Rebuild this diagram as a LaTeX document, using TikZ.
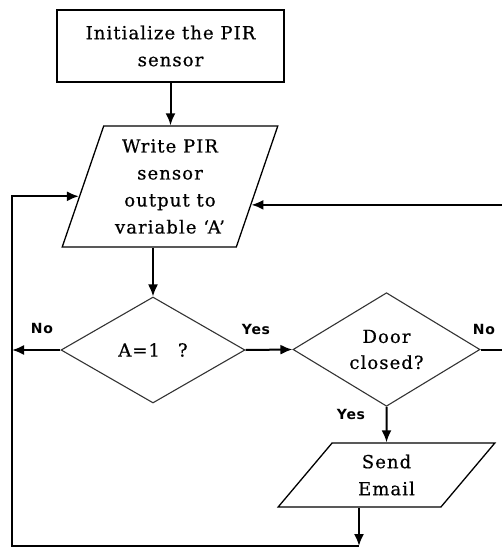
\documentclass[tikz,border=0pt]{standalone}
\usepackage{fontspec}
\setmainfont{DejaVu Serif}
\newfontfamily\boxfont[LetterSpace=6,FakeBold=0.6]{DejaVu Serif}
\newfontfamily\lblfont[LetterSpace=5]{DejaVu Sans}
\usetikzlibrary{shapes.geometric,arrows.meta,calc}

\begin{document}
\begin{tikzpicture}[x=1pt,y=-1pt,>={Latex[length=12pt,width=10pt]},
        procbox/.style={draw,line width=1.6pt,minimum width=227pt,minimum height=72pt,inner sep=0pt,align=center,font=\boxfont\fontsize{18}{27}\selectfont},
        iobox/.style={draw,line width=1.3pt,trapezium,trapezium stretches=true,inner sep=0pt,align=center,font=\boxfont\fontsize{18}{27}\selectfont},
        decision/.style={draw=black!80,line width=1.1pt,diamond,inner sep=0pt,align=center,font=\boxfont\fontsize{18}{26}\selectfont},
        flow/.style={->,line width=2pt},
        lbl/.style={font=\lblfont\bfseries\fontsize{14}{16}\selectfont}]
    \useasboundingbox (0,0) rectangle (502,548);
    % boxes
    \node[procbox] (init) at (170.5,46) {Initialize the PIR\\sensor};
    \node[iobox,trapezium left angle=70,trapezium right angle=110,minimum width=216pt,minimum height=121pt] (write) at (170,186.5) {Write PIR\\sensor\\output to\\variable ‘A’};
    \node[decision,minimum width=184pt,minimum height=106pt] (check) at (153,350) {A=1\quad?};
    \node[decision,minimum width=187pt,minimum height=105pt] (door) at (386.5,349.5) {Door\\closed?};
    \node[iobox,trapezium left angle=55.5,trapezium right angle=124.5,minimum width=217pt,minimum height=64pt] (email) at (386.5,475) {Send\\Email};
    %
    % loop corners
    \coordinate (bl) at (12,546);
    \coordinate (rr) at (506,0);
    \coordinate (wl) at ($(write.top left corner)!0.58!(write.bottom left corner)$);
    \coordinate (wr) at ($(write.top right corner)!0.65!(write.bottom right corner)$);
    %
    % arrows
    \draw[flow] (init.south) -- (init.south |- write.north);
    \draw[flow] (check.north |- write.bottom side) -- (check.north);
    \draw[flow] (check.east) -- (door.west);
    \draw[flow] (check.west) -- (check.west -| bl);
    \draw[flow] (door.south) -- (email.north);
    \draw[flow] (email.bottom side) -- (email.bottom side |- bl);
    \draw[flow] (email.bottom side |- bl) -- (bl) |- (wl);
    \draw[flow] (door.east) -| (wr -| rr) -- (wr);
    %
    % labels
    \node[lbl] (noa) at (42,328) {No};
    \node[lbl] (yesa) at (256,329) {Yes};
    \node[lbl] (nob) at (484,329) {No};
    \node[lbl] (yesb) at (351,414) {Yes};
\end{tikzpicture}
\end{document}
